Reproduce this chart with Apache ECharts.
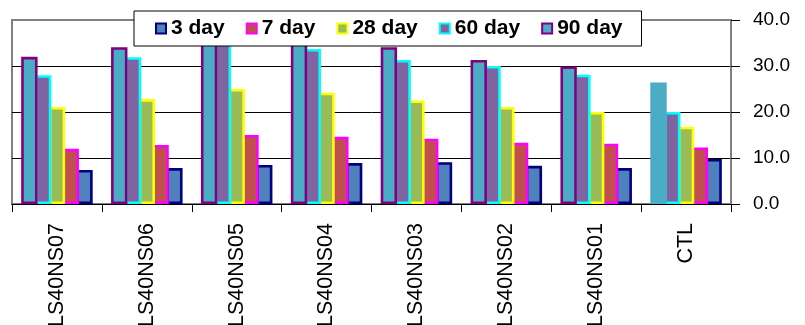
<!DOCTYPE html>
<html>
<head>
<meta charset="utf-8">
<script src="https://cdn.jsdelivr.net/npm/echarts@6/dist/echarts.min.js"></script>
<style>
  html, body { margin: 0; padding: 0; background: #fff; }
  #chart { width: 805px; height: 325px; }
</style>
</head>
<body>
<div id="chart"></div>
<script>
// Mix designations along the category axis
const categories = ['LS40NS07', 'LS40NS06', 'LS40NS05', 'LS40NS04', 'LS40NS03', 'LS40NS02', 'LS40NS01', 'CTL'];

// Strength at each curing age
const day3  = [7.4, 7.8, 8.5, 8.9, 9.1, 8.3, 7.8, 9.8];
const day7  = [12.0, 12.8, 15.0, 14.6, 14.2, 13.3, 13.1, 12.3];
const day28 = [21.1, 22.8, 25.0, 24.2, 22.5, 21.1, 20.0, 16.8];
const day60 = [28.0, 31.9, 35.5, 33.7, 31.3, 30.0, 28.1, 20.0];
const day90 = [32.0, 34.1, 36.5, 35.0, 34.1, 31.3, 29.9, 26.4];

// Value axis ticks
const yTicks = [0, 10, 20, 30, 40];

const FONT = '"Liberation Sans", Arial, sans-serif';

const styles = {
  '3 day':  { color: '#4F81BD', borderColor: '#000080' },
  '7 day':  { color: '#C0504D', borderColor: '#FF00FF' },
  '28 day': { color: '#9BBB59', borderColor: '#FFFF00' },
  '60 day': { color: '#8064A2', borderColor: '#00FFFF' },
  '90 day': { color: '#4BACC6', borderColor: '#800080' }
};

// Bars run left to right 90 → 3 day; neighbours share an outline width,
// and the left bar of each pair is drawn on top.
const seriesDefs = [
  { name: '90 day', data: day90, z: 7 },
  { name: '60 day', data: day60, z: 6 },
  { name: '28 day', data: day28, z: 5 },
  { name: '7 day',  data: day7,  z: 4 },
  { name: '3 day',  data: day3,  z: 3 }
];

const series = seriesDefs.map(s => ({
  name: s.name,
  type: 'bar',
  z: s.z,
  barWidth: 16.4,
  barGap: '-16%',
  itemStyle: Object.assign({ borderWidth: 2.6 }, styles[s.name]),
  data: s.data.map((v, i) => {
    // the control mix's 90 day bar carries no outline
    if (s.name === '90 day' && categories[i] === 'CTL') {
      return { value: v, itemStyle: { borderWidth: 0 } };
    }
    return v;
  })
}));

const legendOrder = ['3 day', '7 day', '28 day', '60 day', '90 day'];

const chart = echarts.init(document.getElementById('chart'), null, { renderer: 'canvas' });
chart.setOption({
  animation: false,
  backgroundColor: '#fff',
  legend: {
    left: 134,
    top: 11,
    z: 20,
    selectedMode: false,
    padding: [7, 19, 7, 21],
    itemWidth: 10,
    itemHeight: 10,
    itemGap: 21,
    itemTextGap: 6,
    backgroundColor: '#fff',
    borderColor: '#000',
    borderWidth: 1,
    textStyle: { fontFamily: FONT, fontWeight: 'bold', fontSize: 21, color: '#000' },
    data: legendOrder.map(n => ({
      name: n,
      icon: 'rect',
      itemStyle: { color: styles[n].color, borderColor: styles[n].borderColor, borderWidth: 2 }
    }))
  },
  grid: {
    left: 12,
    right: 74,
    top: 20,
    bottom: 121,
    containLabel: false,
    outerBoundsMode: 'none',
    show: true,
    borderColor: '#808080',
    borderWidth: 2,
    backgroundColor: '#fff'
  },
  xAxis: {
    type: 'category',
    data: categories,
    axisLine: { lineStyle: { color: '#000', width: 1 } },
    axisTick: { show: true, alignWithLabel: false, length: 8, lineStyle: { color: '#000' } },
    axisLabel: {
      interval: 0,
      rotate: 90,
      margin: 19,
      color: '#000',
      fontFamily: FONT,
      fontSize: 21.5
    }
  },
  yAxis: {
    type: 'value',
    position: 'right',
    min: yTicks[0],
    max: yTicks[yTicks.length - 1],
    interval: yTicks[1] - yTicks[0],
    axisLine: { show: true, lineStyle: { color: '#808080', width: 2 } },
    axisTick: { show: true, length: 9, lineStyle: { color: '#000' } },
    splitLine: { show: true, lineStyle: { color: ['#000', '#000', '#000', '#000', 'rgba(0,0,0,0)'], width: 1 } },
    axisLabel: {
      margin: 22,
      align: 'left',
      color: '#000',
      fontFamily: FONT,
      fontSize: 19,
      formatter: v => v.toFixed(1)
    }
  },
  series: series
});
</script>
</body>
</html>
